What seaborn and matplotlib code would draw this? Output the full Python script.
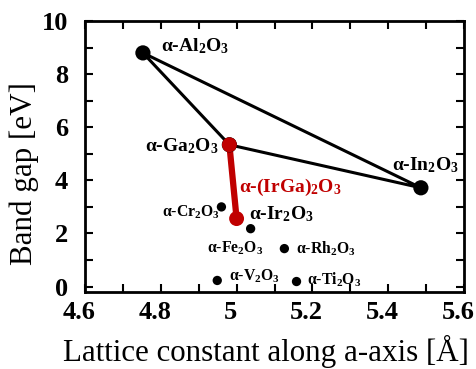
import matplotlib
matplotlib.use("Agg")
import matplotlib.pyplot as plt
import matplotlib.transforms as mtransforms
import seaborn as sns
import pandas as pd

# big corundum oxides (triangle corners): Al2O3, Ga2O3, In2O3
big_a = [4.753, 4.981, 5.486]
big_gap = [8.80, 5.34, 3.72]

# alloy line Ga2O3 -> (IrGa)2O3
alloy_a = [4.981, 5.000]
alloy_gap = [5.34, 2.56]

# other corundum oxides
small_a = [4.960, 5.037, 5.126, 4.949, 5.158]
small_gap = [3.00, 2.18, 1.43, 0.23, 0.19]

# labels: text, x, y, size, colour
label_txt = ["α-Al$_2$O$_3$", "α-Ga$_2$O$_3$", "α-In$_2$O$_3$", "α-(IrGa)$_2$O$_3$",
             "α-Ir$_2$O$_3$", "α-Cr$_2$O$_3$", "α-Fe$_2$O$_3$", "α-Rh$_2$O$_3$",
             "α-V$_2$O$_3$", "α-Ti$_2$O$_3$"]
label_x = [4.891, 4.854, 5.498, 5.142, 5.118, 4.879, 4.997, 5.236, 5.048, 5.257]
label_y = [9.06, 5.30, 4.59, 3.72, 2.72, 2.78, 1.43, 1.43, 0.40, 0.27]
label_fs = [14, 14, 14, 14, 14, 11.3, 11.3, 11.3, 11.3, 11.3]
label_col = ["black"] * 3 + ["#c00000"] + ["black"] * 6

sns.set_style("ticks", {"axes.edgecolor": "black", "text.color": "black",
                        "axes.labelcolor": "black", "xtick.color": "black",
                        "ytick.color": "black"})
plt.rcParams["font.family"] = ["Liberation Serif", "DejaVu Serif"]
plt.rcParams["mathtext.fontset"] = "custom"
plt.rcParams["mathtext.rm"] = "Liberation Serif:bold"
plt.rcParams["mathtext.bf"] = "Liberation Serif:bold"
plt.rcParams["mathtext.default"] = "bf"

fig, ax = plt.subplots(figsize=(4.77, 3.69), dpi=100)
fig.subplots_adjust(left=0.178, right=0.973, top=0.943, bottom=0.209)

tri = pd.DataFrame({
    "a": big_a + [big_a[0]],
    "gap": big_gap + [big_gap[0]],
})
sns.lineplot(data=tri, x="a", y="gap", sort=False, estimator=None,
             color="black", lw=2.2, ax=ax)
sns.lineplot(x=alloy_a, y=alloy_gap, sort=False, estimator=None,
             color="#c00000", lw=4.5, ax=ax)
sns.scatterplot(x=big_a, y=big_gap, s=120, color="black", edgecolor="none", ax=ax, zorder=5)
sns.scatterplot(x=alloy_a, y=alloy_gap, s=115, color="#c00000", edgecolor="none", ax=ax, zorder=6)
sns.scatterplot(x=small_a, y=small_gap, s=45, color="black", edgecolor="none", ax=ax, zorder=5)

for txt, x, y, fs, c in zip(label_txt, label_x, label_y, label_fs, label_col):
    ax.text(x, y, txt, fontsize=fs, fontweight="bold", color=c,
            ha="center", va="center")

ax.set_xlim(4.6, 5.6)
ax.set_ylim(-0.2, 10)
ax.set_xticks([4.6, 4.8, 5.0, 5.2, 5.4, 5.6])
ax.set_xticklabels(["4.6", "4.8", "5", "5.2", "5.4", "5.6"])
ax.set_xticks([4.7, 4.9, 5.1, 5.3, 5.5], minor=True)
ax.set_yticks([0, 2, 4, 6, 8, 10])
ax.set_yticks([1, 3, 5, 7, 9], minor=True)
ax.tick_params(which="both", direction="in", top=True, right=True,
               length=6, width=1.5, labelsize=19, color="black", labelcolor="black")
ax.tick_params(axis="y", pad=12)
ax.tick_params(axis="x", pad=6.5)
shift = mtransforms.ScaledTranslation(-6 / 100, 0, fig.dpi_scale_trans)
for lab in ax.get_xticklabels():
    lab.set_fontweight("bold")
    lab.set_transform(lab.get_transform() + shift)
for lab in ax.get_yticklabels():
    lab.set_fontweight("bold")
for sp in ax.spines.values():
    sp.set_linewidth(2)
    sp.set_color("black")
    sp.set_visible(True)

ax.set_xlabel("Lattice constant along a-axis [Å]", fontsize=22.3, labelpad=8, color="black")
ax.set_ylabel("Band gap [eV]", fontsize=22.3, labelpad=2, color="black")
ax.xaxis.label.set_x(0.478)
ax.yaxis.label.set_y(0.435)

fig.savefig("out.png", dpi=100)
